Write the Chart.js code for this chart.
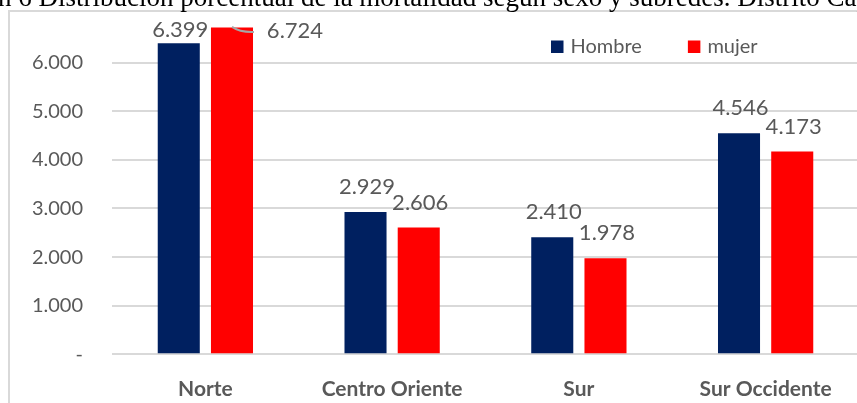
<!DOCTYPE html>
<html lang="es">
<head>
    <meta charset="UTF-8">
    <title>Mortalidad según sexo y subredes</title>
    <style>
        body {
            margin: 0;
            width: 857px;
            height: 403px;
            overflow: hidden;
            background: #ffffff;
            position: relative;
        }

        #titulo {
            position: absolute;
            z-index: 2;
            left: -104px;
            top: -18px;
            white-space: nowrap;
            font-family: "Liberation Serif", "Times New Roman", serif;
            font-size: 27px;
            color: #000000;
        }

        #grafico {
            position: absolute;
            left: 0;
            top: 0;
        }
    </style>
</head>
<body>
    <div id="titulo">Ilustración 6 Distribución porcentual de la mortalidad según sexo y subredes. Distrito Capital</div>
    <canvas id="grafico" width="862" height="403"></canvas>

    <script src="https://cdn.jsdelivr.net/npm/chart.js"></script>
    <script>
        // Datos
        const subredes = ['Norte', 'Centro Oriente', 'Sur', 'Sur Occidente'];
        const series = ['Hombre', 'mujer'];
        const hombre = [6399, 2929, 2410, 4546];
        const mujer = [6724, 2606, 1978, 4173];
        const yTicks = [0, 1000, 2000, 3000, 4000, 5000, 6000, 7000];

        const gris = '#595959';
        const fuente = 'Lato, "Open Sans", sans-serif';

        function formato(v) {
            if (v === 0) return '-';
            return String(v).replace(/\B(?=(\d{3})+(?!\d))/g, '.');
        }

        // Marco gris alrededor del gráfico
        const marco = {
            id: 'marco',
            beforeDraw(chart) {
                const ctx = chart.ctx;
                ctx.save();
                ctx.fillStyle = '#ffffff';
                ctx.fillRect(0, 0, chart.width, chart.height);
                ctx.strokeStyle = '#d9d9d9';
                ctx.lineWidth = 2;
                ctx.strokeRect(9, 11, 900, 450);
                ctx.restore();
            }
        };

        // Etiquetas de valor encima de las barras
        const desplaz = {
            '0-0': { dx: 1.5, dy: -13 },
            '1-0': { dx: 63, dy: 3, guia: true }
        };
        const etiquetas = {
            id: 'etiquetas',
            afterDatasetsDraw(chart) {
                const ctx = chart.ctx;
                ctx.save();
                ctx.font = '22px ' + fuente;
                ctx.fillStyle = gris;
                ctx.textAlign = 'center';
                ctx.textBaseline = 'middle';
                chart.data.datasets.forEach((ds, d) => {
                    chart.getDatasetMeta(d).data.forEach((bar, i) => {
                        const o = desplaz[d + '-' + i] || { dx: 1.5, dy: -25 };
                        const x = bar.x + o.dx;
                        const y = bar.y + o.dy;
                        if (o.guia) {
                            ctx.strokeStyle = '#a6a6a6';
                            ctx.lineWidth = 2;
                            ctx.beginPath();
                            ctx.moveTo(bar.x, bar.y - 0.5);
                            ctx.quadraticCurveTo(bar.x + 8, bar.y + 5, bar.x + 22, bar.y + 4.5);
                            ctx.stroke();
                        }
                        ctx.fillText(formato(ds.data[i]), x, y);
                    });
                });
                ctx.restore();
            }
        };

        // Leyenda dentro del área del gráfico
        const leyenda = {
            id: 'leyenda',
            afterDraw(chart) {
                const ctx = chart.ctx;
                ctx.save();
                ctx.font = '20px ' + fuente;
                ctx.textBaseline = 'middle';
                let x = 551;
                const y = 47;
                chart.data.datasets.forEach(ds => {
                    ctx.fillStyle = ds.backgroundColor;
                    ctx.fillRect(x, y - 6.5, 12.5, 12.5);
                    ctx.fillStyle = gris;
                    ctx.fillText(ds.label, x + 19.5, y);
                    x += 19.5 + ctx.measureText(ds.label).width + 46;
                });
                ctx.restore();
            }
        };

        const config = {
            type: 'bar',
            data: {
                labels: subredes,
                datasets: [
                    { label: series[0], data: hombre, backgroundColor: '#002060' },
                    { label: series[1], data: mujer, backgroundColor: '#ff0000' }
                ]
            },
            options: {
                responsive: false,
                animation: false,
                layout: { padding: { top: 14, right: 3, left: 0, bottom: 0 } },
                datasets: {
                    bar: { barPercentage: 0.79, categoryPercentage: 0.57 }
                },
                plugins: {
                    legend: { display: false },
                    tooltip: { enabled: false }
                },
                scales: {
                    x: {
                        grid: { display: false },
                        border: { display: false },
                        ticks: {
                            color: gris,
                            padding: 14,
                            font: { family: fuente, size: 21, weight: 'bold' }
                        },
                        afterFit(axis) {
                            axis.height = 48.7;
                            axis.paddingLeft = 0;
                            axis.paddingRight = 0;
                        }
                    },
                    y: {
                        min: 0,
                        max: 7000,
                        afterBuildTicks(axis) { axis.ticks = yTicks.map(v => ({ value: v })); },
                        grid: {
                            drawTicks: false,
                            lineWidth: 2,
                            color: c => c.tick && c.tick.value === 7000 ? 'rgba(0,0,0,0)' : '#d9d9d9'
                        },
                        border: { display: false },
                        ticks: {
                            color: gris,
                            padding: 29,
                            font: { family: fuente, size: 20 },
                            callback: v => v === 7000 ? '' : formato(v)
                        },
                        afterFit(axis) {
                            axis.width = 112;
                            axis.paddingTop = 0;
                            axis.paddingBottom = 0;
                        }
                    }
                }
            },
            plugins: [marco, etiquetas, leyenda]
        };

        new Chart(document.getElementById('grafico'), config);
    </script>
</body>
</html>
